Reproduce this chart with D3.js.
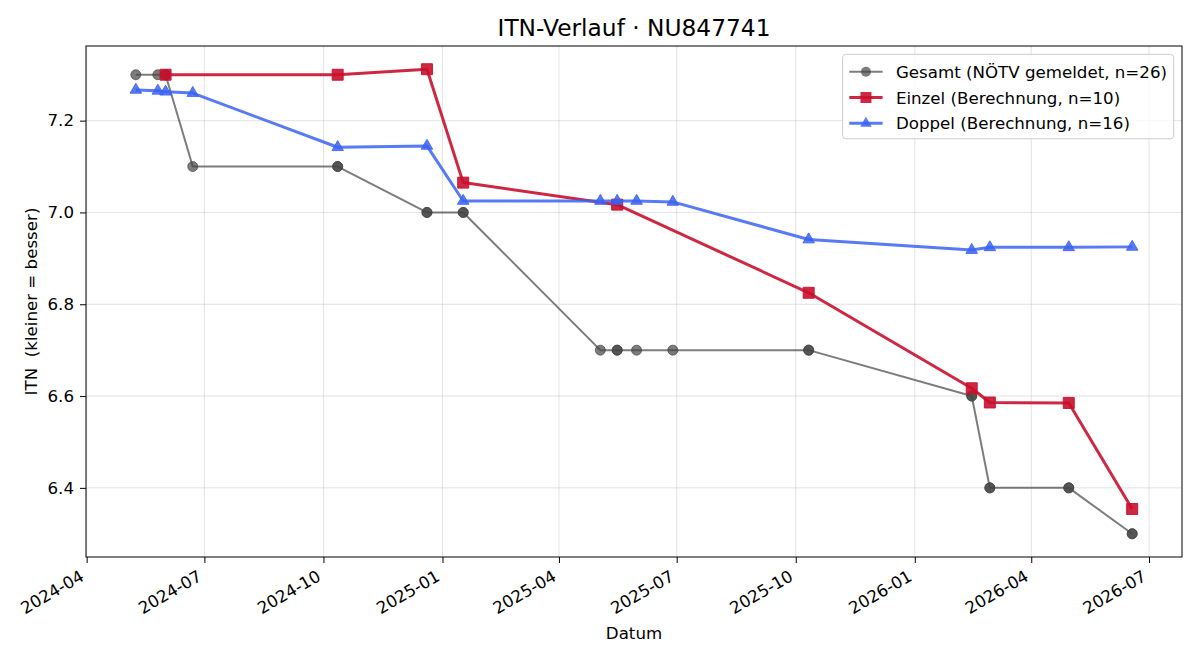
<!DOCTYPE html>
<html>
<head>
<meta charset="utf-8">
<script src="https://cdn.jsdelivr.net/npm/d3@7"></script>
<style>
  body { margin: 0; background: #fff; }
  svg { font-family: "DejaVu Sans", sans-serif; }
</style>
</head>
<body>
<div id="chart"></div>
<script>
// data
let gesamtDates = ['2024-05-09', '2024-05-26', '2024-06-01', '2024-06-01', '2024-06-22',
    '2024-10-12', '2024-10-12', '2024-12-20', '2024-12-20', '2025-01-17', '2025-01-17',
    '2025-05-03', '2025-05-16', '2025-05-16', '2025-05-31', '2025-06-28', '2025-10-11',
    '2025-10-11', '2026-02-14', '2026-02-14', '2026-02-28', '2026-02-28', '2026-04-30',
    '2026-04-30', '2026-06-18', '2026-06-18'];
let gesamtValues = [7.3, 7.3, 7.3, 7.3, 7.1, 7.1, 7.1, 7.0, 7.0, 7.0, 7.0, 6.7, 6.7, 6.7,
    6.7, 6.7, 6.7, 6.7, 6.6, 6.6, 6.4, 6.4, 6.4, 6.4, 6.3, 6.3];

let einzelDates = ['2024-06-01', '2024-10-12', '2024-12-20', '2025-01-17', '2025-05-16',
    '2025-10-11', '2026-02-14', '2026-02-28', '2026-04-30', '2026-06-18'];
let einzelValues = [7.30, 7.30, 7.312, 7.065, 7.017, 6.825, 6.617, 6.586, 6.585, 6.354];

let doppelDates = ['2024-05-09', '2024-05-26', '2024-06-01', '2024-06-22', '2024-10-12',
    '2024-12-20', '2025-01-17', '2025-05-03', '2025-05-16', '2025-05-31', '2025-06-28',
    '2025-10-11', '2026-02-14', '2026-02-28', '2026-04-30', '2026-06-18'];
let doppelValues = [7.267, 7.265, 7.263, 7.260, 7.142, 7.145, 7.025, 7.025, 7.025, 7.025,
    7.023, 6.941, 6.918, 6.924, 6.924, 6.925];

let yTicks = [6.4, 6.6, 6.8, 7.0, 7.2];

let chart_width = 1200;
let chart_height = 660;
let m = { left: 86, right: 1182, top: 46, bottom: 557 };
let fs = 16.67;

let parse = d3.utcParse('%Y-%m-%d');
function zip(dates, values) {
    return dates.map(function(d, i) { return [parse(d), values[i]]; });
}

let series = [
    { label: 'Gesamt (NÖTV gemeldet, n=26)', data: zip(gesamtDates, gesamtValues),
      color: '#444444', alpha: 0.7, lw: 2, marker: 'circle', size: 10 },
    { label: 'Einzel (Berechnung, n=10)', data: zip(einzelDates, einzelValues),
      color: '#c8102e', alpha: 0.9, lw: 3, marker: 'square', size: 11 },
    { label: 'Doppel (Berechnung, n=16)', data: zip(doppelDates, doppelValues),
      color: '#3b63f2', alpha: 0.85, lw: 3, marker: 'triangle', size: 11 }
];

// matplotlib style 5% margins
let allPts = series.flatMap(s => s.data);
let xExt = d3.extent(allPts, d => +d[0]);
let yExt = d3.extent(allPts, d => d[1]);
let xPad = (xExt[1] - xExt[0]) * 0.05;
let yPad = (yExt[1] - yExt[0]) * 0.05;

let xScale = d3.scaleUtc()
    .domain([new Date(xExt[0] - xPad), new Date(xExt[1] + xPad)])
    .range([m.left, m.right]);

let yScale = d3.scaleLinear()
    .domain([yExt[0] - yPad, yExt[1] + yPad])
    .range([m.bottom, m.top]);

let xTicks = d3.utcMonth.every(3).range(xScale.domain()[0], xScale.domain()[1]);
let fmt = d3.utcFormat('%Y-%m');

let svg = d3.select('#chart')
    .append('svg')
    .attr('width', chart_width)
    .attr('height', chart_height);

// grid
svg.append('g')
    .selectAll('line')
    .data(xTicks)
    .enter()
    .append('line')
    .attr('x1', d => xScale(d)).attr('x2', d => xScale(d))
    .attr('y1', m.top).attr('y2', m.bottom)
    .attr('stroke', '#b0b0b0').attr('stroke-opacity', 0.35).attr('stroke-width', 1);

svg.append('g')
    .selectAll('line')
    .data(yTicks)
    .enter()
    .append('line')
    .attr('x1', m.left).attr('x2', m.right)
    .attr('y1', d => yScale(d)).attr('y2', d => yScale(d))
    .attr('stroke', '#b0b0b0').attr('stroke-opacity', 0.35).attr('stroke-width', 1);

// axes
let xAxis = d3.axisBottom(xScale)
    .tickValues(xTicks)
    .tickFormat(fmt)
    .tickSize(6)
    .tickPadding(6);

let gx = svg.append('g')
    .attr('transform', 'translate(0,' + m.bottom + ')')
    .call(xAxis);
gx.select('.domain').remove();
gx.selectAll('.tick line').attr('stroke', '#000').attr('stroke-width', 1);
gx.selectAll('.tick text')
    .attr('font-size', fs)
    .attr('font-family', 'DejaVu Sans')
    .attr('fill', '#000')
    .attr('text-anchor', 'end')
    .attr('y', null).attr('dy', null)
    .attr('transform', 'translate(-2,' + 22.6 + ') rotate(-30)');

let yAxis = d3.axisLeft(yScale)
    .tickValues(yTicks)
    .tickFormat(d3.format('.1f'))
    .tickSize(6)
    .tickPadding(6);

let gy = svg.append('g')
    .attr('transform', 'translate(' + m.left + ',0)')
    .call(yAxis);
gy.select('.domain').remove();
gy.selectAll('.tick line').attr('stroke', '#000').attr('stroke-width', 1);
gy.selectAll('.tick text')
    .attr('font-size', fs)
    .attr('font-family', 'DejaVu Sans')
    .attr('fill', '#000');

// frame
svg.append('rect')
    .attr('x', m.left).attr('y', m.top)
    .attr('width', m.right - m.left).attr('height', m.bottom - m.top)
    .attr('fill', 'none').attr('stroke', '#000').attr('stroke-width', 1);

// markers
let sym = {
    circle: d3.symbolCircle,
    square: d3.symbolSquare,
    triangle: d3.symbolTriangle
};
function markerPath(s) {
    let area = s.marker === 'circle' ? Math.PI * Math.pow(s.size / 2, 2)
        : s.marker === 'square' ? s.size * s.size
        : Math.sqrt(3) / 4 * s.size * s.size * 1.1;
    return d3.symbol().type(sym[s.marker]).size(area)();
}

let line = d3.line()
    .x(d => xScale(d[0]))
    .y(d => yScale(d[1]));

series.forEach(function(s) {
    let g = svg.append('g');
    g.append('path')
        .datum(s.data)
        .attr('d', line)
        .attr('fill', 'none')
        .attr('stroke', s.color)
        .attr('stroke-opacity', s.alpha)
        .attr('stroke-width', s.lw)
        .attr('stroke-linejoin', 'round');
    g.selectAll('path.mk')
        .data(s.data)
        .enter()
        .append('path')
        .attr('class', 'mk')
        .attr('d', markerPath(s))
        .attr('transform', d => 'translate(' + xScale(d[0]) + ',' + yScale(d[1]) + ')')
        .attr('fill', s.color)
        .attr('fill-opacity', s.alpha)
        .attr('stroke', s.color)
        .attr('stroke-opacity', s.alpha);
});

// title and labels
svg.append('text')
    .attr('x', (m.left + m.right) / 2)
    .attr('y', 36)
    .attr('text-anchor', 'middle')
    .attr('font-size', 23.3)
    .text('ITN-Verlauf · NU847741');

svg.append('text')
    .attr('x', (m.left + m.right) / 2)
    .attr('y', 639)
    .attr('text-anchor', 'middle')
    .attr('font-size', fs)
    .text('Datum');

svg.append('text')
    .attr('transform', 'translate(37,' + ((m.top + m.bottom) / 2) + ') rotate(-90)')
    .attr('text-anchor', 'middle')
    .attr('font-size', fs)
    .style('white-space', 'pre')
    .text('ITN  (kleiner = besser)');

// legend
let lg = svg.append('g');
let box = lg.append('rect')
    .attr('y', 54.3)
    .attr('height', 84.5)
    .attr('rx', 3.3)
    .attr('fill', '#fff')
    .attr('fill-opacity', 0.8)
    .attr('stroke', '#cccccc')
    .attr('stroke-width', 1);

let rowY = [71.7, 97.5, 123.3];
let maxW = 0;
let items = lg.selectAll('g.item')
    .data(series)
    .enter()
    .append('g')
    .attr('class', 'item');
items.append('text')
    .attr('y', (d, i) => rowY[i])
    .attr('dy', '0.36em')
    .attr('font-size', fs)
    .text(d => d.label)
    .each(function() { maxW = Math.max(maxW, this.getComputedTextLength()); });

let boxRight = m.right - 8.3;
let boxLeft = boxRight - (6.7 + 33.3 + 13.3 + maxW + 6.7);
box.attr('x', boxLeft).attr('width', boxRight - boxLeft);
items.select('text').attr('x', boxLeft + 6.7 + 33.3 + 13.3);
items.append('line')
    .attr('x1', boxLeft + 6.7).attr('x2', boxLeft + 40)
    .attr('y1', (d, i) => rowY[i]).attr('y2', (d, i) => rowY[i])
    .attr('stroke', d => d.color)
    .attr('stroke-opacity', d => d.alpha)
    .attr('stroke-width', d => d.lw);
items.append('path')
    .attr('d', d => markerPath(d))
    .attr('transform', (d, i) => 'translate(' + (boxLeft + 23.35) + ',' + rowY[i] + ')')
    .attr('fill', d => d.color)
    .attr('fill-opacity', d => d.alpha);
</script>
</body>
</html>
